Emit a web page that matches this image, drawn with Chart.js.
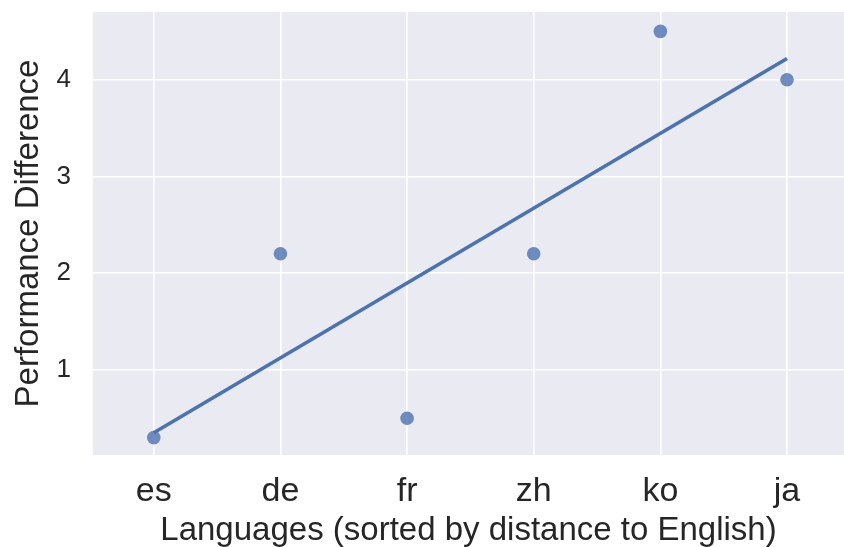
<!DOCTYPE html>
<html lang="en">
<head>
  <meta charset="UTF-8">
  <title>Performance Difference by Language</title>
  <style>
    html, body { margin: 0; padding: 0; background: #ffffff; }
    #grafico { display: block; }
  </style>
</head>
<body>
  <canvas id="grafico" width="844" height="547"></canvas>

<script src="https://cdn.jsdelivr.net/npm/chart.js"></script>
<script>
  // Dados
  const idiomas = ["es", "de", "fr", "zh", "ko", "ja"];
  const posicoes = [0, 1, 2, 3, 4, 5];
  const diferencas = [0.3, 2.2, 0.5, 2.2, 4.5, 4.0];
  // Reta de regressão (extremos)
  const retaX = [0, 5];
  const retaY = [0.35, 4.22];
  const ticksY = [1, 2, 3, 4];

  const fonte = "'Liberation Sans', Arial, sans-serif";
  const corTexto = "#262626";

  // Fundo cinza-azulado da área do gráfico (estilo seaborn)
  const fundoPlot = {
    id: "fundoPlot",
    beforeDraw(chart) {
      const { ctx, chartArea } = chart;
      ctx.save();
      ctx.fillStyle = "#EAEAF2";
      ctx.fillRect(chartArea.left, chartArea.top, chartArea.right - chartArea.left, chartArea.bottom - chartArea.top);
      ctx.restore();
    }
  };

  const pontos = posicoes.map((x, i) => ({ x: x, y: diferencas[i] }));
  const reta = retaX.map((x, i) => ({ x: x, y: retaY[i] }));

  new Chart(document.getElementById("grafico"), {
    type: "scatter",
    data: {
      datasets: [
        {
          type: "line",
          data: reta,
          borderColor: "#4C72B0",
          borderWidth: 3.6,
          pointRadius: 0,
          fill: false,
          order: 0
        },
        {
          data: pontos,
          backgroundColor: "rgba(76, 114, 176, 0.8)",
          borderWidth: 0,
          pointRadius: 6.8,
          order: 1
        }
      ]
    },
    options: {
      responsive: false,
      animation: false,
      devicePixelRatio: 1,
      layout: { autoPadding: false, padding: { top: 12, right: 0, bottom: 0, left: 0 } },
      plugins: {
        legend: { display: false },
        tooltip: { enabled: false }
      },
      scales: {
        x: {
          type: "linear",
          min: -0.48,
          max: 5.45,
          afterBuildTicks: (escala) => { escala.ticks = posicoes.map(v => ({ value: v })); },
          afterFit: (escala) => {
            escala.height = 92;
            escala.paddingLeft = 0;
            escala.paddingRight = 0;
          },
          border: { display: false },
          grid: { color: "#ffffff", lineWidth: 1.6, drawTicks: false },
          ticks: {
            padding: 16,
            color: corTexto,
            font: { family: fonte, size: 34 },
            maxRotation: 0,
            callback: (v) => idiomas[v]
          },
          title: {
            display: true,
            text: "Languages (sorted by distance to English)",
            color: corTexto,
            font: { family: fonte, size: 33 },
            padding: { top: 0, bottom: -4 }
          }
        },
        y: {
          min: 0.12,
          max: 4.70,
          afterBuildTicks: (escala) => { escala.ticks = ticksY.map(v => ({ value: v })); },
          afterFit: (escala) => {
            escala.width = 93;
            escala.paddingTop = 0;
            escala.paddingBottom = 0;
          },
          border: { display: false },
          grid: { color: "#ffffff", lineWidth: 1.6, drawTicks: false },
          ticks: {
            padding: 22,
            color: corTexto,
            font: { family: fonte, size: 26 }
          },
          title: {
            display: true,
            text: "Performance Difference",
            color: corTexto,
            font: { family: fonte, size: 33 },
            padding: { top: 9, bottom: 0 }
          }
        }
      }
    },
    plugins: [fundoPlot]
  });
</script>
</body>
</html>
